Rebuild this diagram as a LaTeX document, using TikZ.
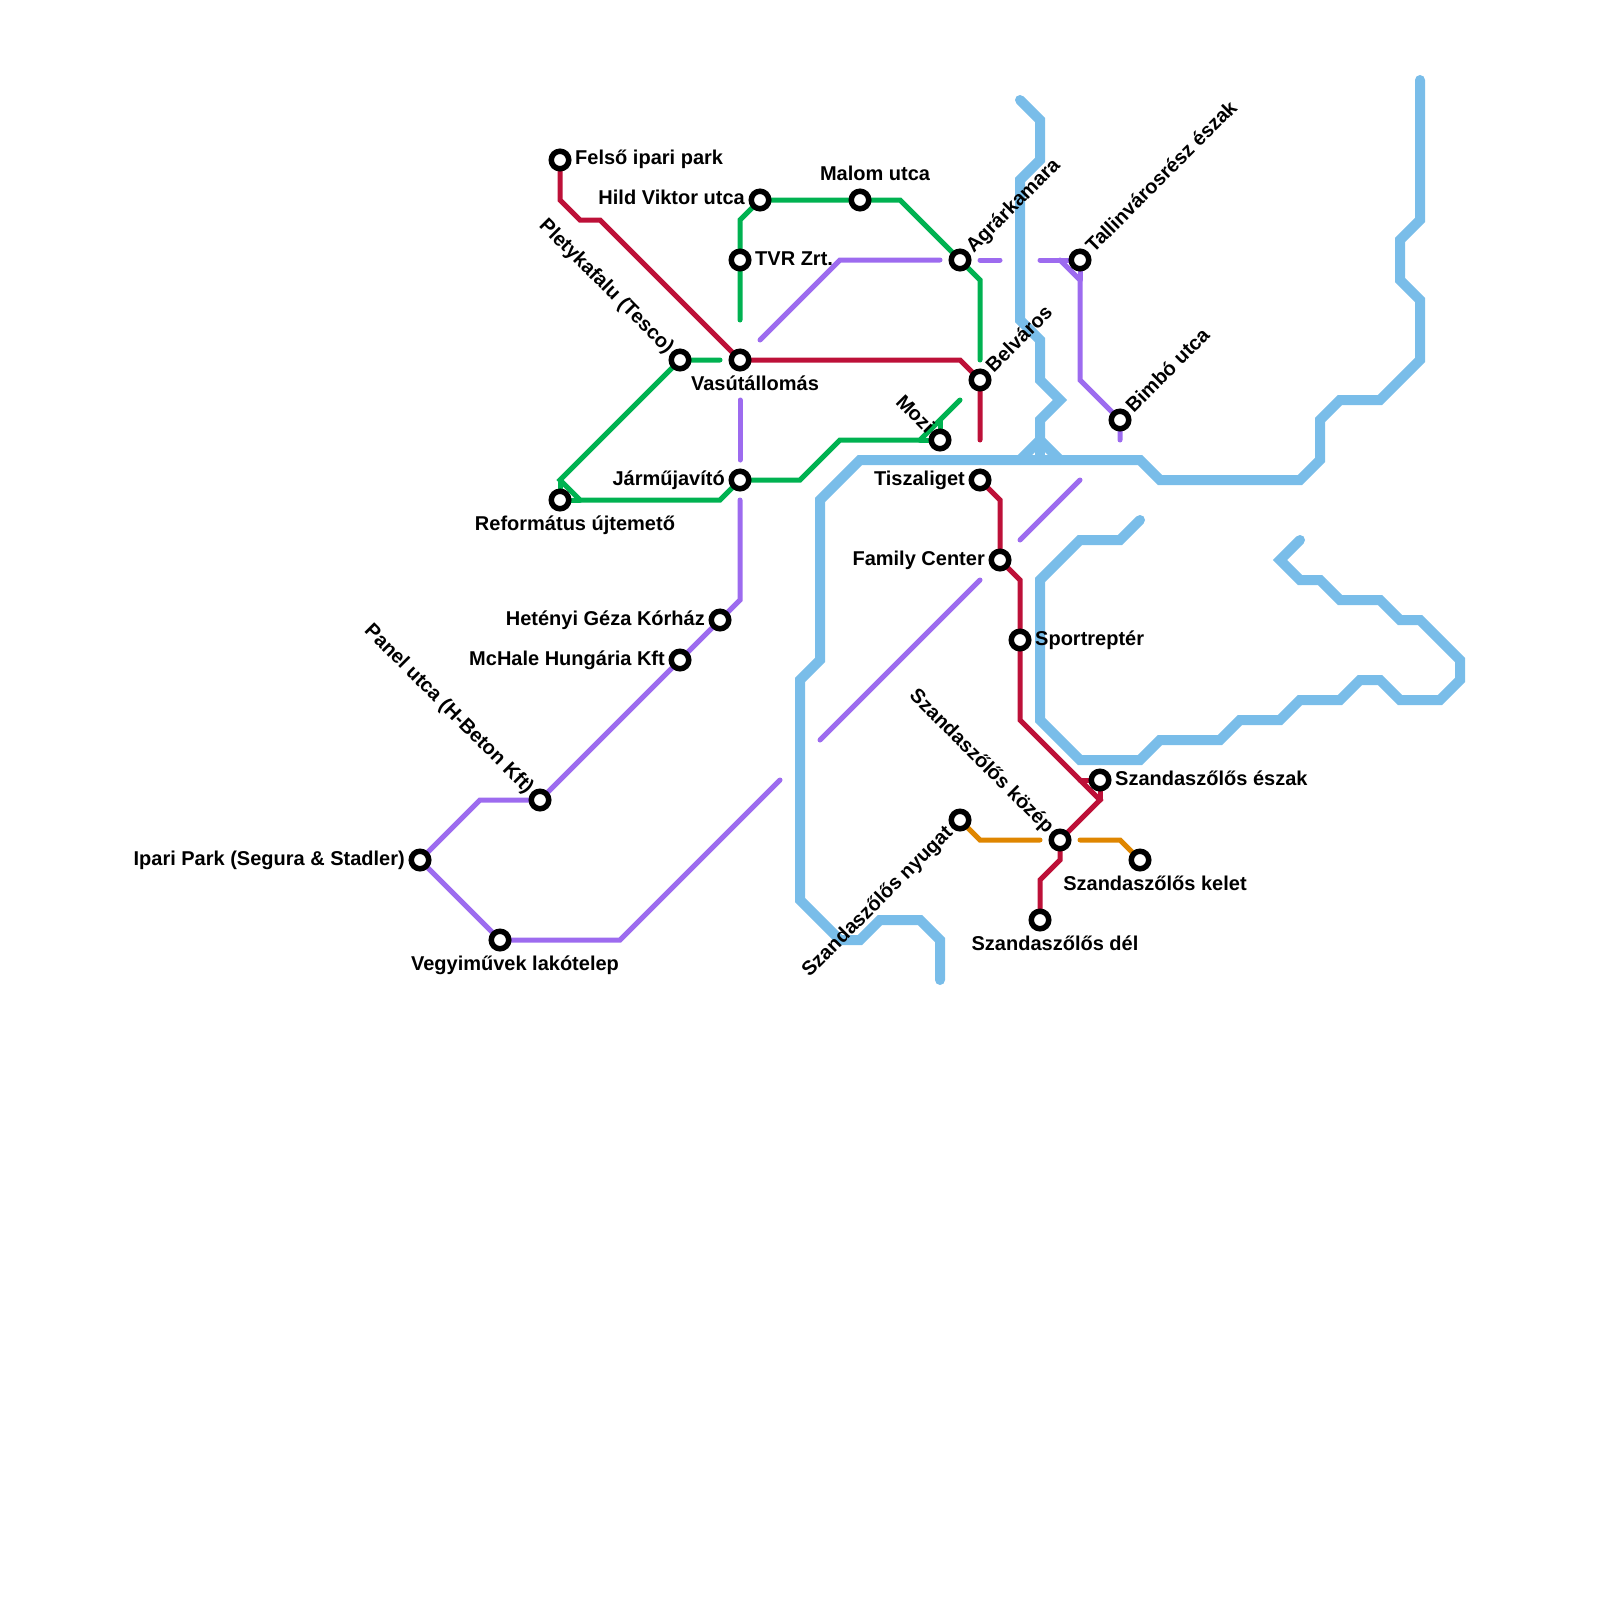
\documentclass[tikz,border=0pt]{standalone}
\usepackage{fontspec}
\setmainfont{Liberation Sans}
\definecolor{cred}{HTML}{BD1038}
\definecolor{cgreen}{HTML}{00B251}
\definecolor{cpurple}{HTML}{9D6BEF}
\definecolor{cblue}{HTML}{79BDE9}
\definecolor{corange}{HTML}{DF8600}
\pgfdeclarelayer{lines}
\pgfsetlayers{lines,main}
\tikzset{
  stn/.style={circle,draw=black,fill=white,line width=5.5pt,minimum size=17.5pt,inner sep=0pt},
  lbl/.style={inner sep=0pt,font=\fontsize{20}{20}\selectfont\bfseries,text height=14.5pt,text depth=4.2pt},
  rail/.style={line width=5pt,line cap=round,line join=miter,miter limit=4},
  water/.style={line width=10pt,line cap=round,line join=miter,miter limit=4,draw=cblue},
  lr/.style={rail,draw=cred},lg/.style={rail,draw=cgreen},lp/.style={rail,draw=cpurple},lo/.style={rail,draw=corange}
}
\begin{document}
\begin{tikzpicture}[x=1pt,y=-1pt]
\useasboundingbox (0,0) rectangle (1600,1600);
\foreach \n/\x/\y in {fel/560/160,hil/760/200,mal/860/200,tvr/740/260,agr/960/260,tal/1080/260,ple/680/360,vas/740/360,bel/980/380,bim/1120/420,moz/940/440,jar/740/480,tis/980/480,ref/560/500,fam/1000/560,het/720/620,spo/1020/640,mch/680/660,pan/540/800,sze/1100/780,szn/960/820,szk/1060/840,szl/1140/860,szd/1040/920,ipa/420/860,veg/500/940}{
  \node[stn] (\n) at (\x,\y) {};
}
% labels
\node[lbl,anchor=west] (tfel) at (575,159.5) {Felső ipari park};
\node[lbl,anchor=east] (thil) at (745,199) {Hild Viktor utca};
\node[lbl] (tmal) at (875,175) {Malom utca};
\node[lbl,anchor=west] (ttvr) at (755,260) {TVR Zrt.};
\node[lbl,anchor=west,rotate=45] (tagr) at (970,250) {Agrárkamara};
\node[lbl,anchor=west,rotate=45] (ttal) at (1090,250) {Tallinvárosrész észak};
\node[lbl,anchor=east,rotate=-45] (tple) at (670,351) {Pletykafalu (Tesco)};
\node[lbl] (tvas) at (755,385) {Vasútállomás};
\node[lbl,anchor=west,rotate=45] (tbel) at (990,370) {Belváros};
\node[lbl,anchor=west,rotate=45] (tbim) at (1130,410) {Bimbó utca};
\node[lbl,anchor=east,rotate=-45] (tmoz) at (930,431) {Mozi};
\node[lbl,anchor=east] (tjar) at (725,480) {Járműjavító};
\node[lbl,anchor=east] (ttis) at (965,480) {Tiszaliget};
\node[lbl] (tref) at (575,525) {Református újtemető};
\node[lbl,anchor=east] (tfam) at (985,560) {Family Center};
\node[lbl,anchor=east] (thet) at (705,620) {Hetényi Géza Kórház};
\node[lbl,anchor=west] (tspo) at (1035,640) {Sportreptér};
\node[lbl,anchor=east] (tmch) at (665,660) {McHale Hungária Kft};
\node[lbl,anchor=east,rotate=-45] (tpan) at (530,791) {Panel utca (H-Beton Kft)};
\node[lbl,anchor=west] (tsze) at (1115,780) {Szandaszőlős észak};
\node[lbl,anchor=east,rotate=45] (tszn) at (950,830) {Szandaszőlős nyugat};
\node[lbl,anchor=east,rotate=-45] (tszk) at (1050,831) {Szandaszőlős közép};
\node[lbl] (tszl) at (1155,885) {Szandaszőlős kelet};
\node[lbl] (tszd) at (1055,945) {Szandaszőlős dél};
\node[lbl,anchor=east] (tipa) at (405,860) {Ipari Park (Segura \& Stadler)};
\node[lbl] (tveg) at (515,965) {Vegyiművek lakótelep};
\begin{pgfonlayer}{lines}
% water
\draw[water] (1020,100)--(1040,120)--(1040,160)--(1020,180)--(1020,320)--(1040,340)--(1040,380)--(1060,400)--(1040,420)--(1040,440);
\draw[water] (1020,460)--(1040,440)--(1060,460);
\draw[water] (1040,440)--(1040,460);
\draw[water] (1420,80)--(1420,220)--(1400,240)--(1400,280)--(1420,300)--(1420,360)--(1380,400)--(1340,400)--(1320,420)--(1320,460)--(1300,480)--(1160,480)--(1140,460)--(860,460)--(820,500)--(820,660)--(800,680)--(800,900)--(840,940)--(860,940)--(880,920)--(920,920)--(940,940)--(940,980);
\draw[water] (1140,520)--(1120,540)--(1080,540)--(1040,580)--(1040,720)--(1080,760)--(1140,760)--(1160,740)--(1220,740)--(1240,720)--(1280,720)--(1300,700)--(1340,700)--(1360,680)--(1380,680)--(1400,700)--(1440,700)--(1460,680)--(1460,660)--(1420,620)--(1400,620)--(1380,600)--(1340,600)--(1320,580)--(1300,580)--(1280,560)--(1300,540);
% green
\draw[lg] (740,320)--(tvr.center)--(740,220)--(hil.center)--(mal.center)--(900,200)--(agr.center)--(980,280)--(980,360);
\draw[lg] (720,360)--(ple.center)--(560,480)--(580,500)--(720,500)--(jar.center)--(800,480)--(840,440)--(920,440)--(960,400);
\draw[lg] (560,480)--(ref.center)--(580,500);
\draw[lg] (940,420)--(moz.center);
\draw[lg] (920,440)--(moz.center);
% purple
\draw[lp] (760,340)--(840,260)--(940,260);
\draw[lp] (980,260)--(1000,260);
\draw[lp] (1040,260)--(tal.center);
\draw[lp] (1060,260)--(1080,280)--(1080,380)--(bim.center)--(1120,440);
\draw[lp] (tal.center)--(1080,280);
\draw[lp] (740,400)--(740,460);
\draw[lp] (740,500)--(740,600)--(het.center)--(mch.center)--(pan.center)--(480,800)--(ipa.center)--(veg.center)--(620,940)--(780,780);
\draw[lp] (820,740)--(980,580);
\draw[lp] (1020,540)--(1080,480);
% red
\draw[lr] (fel.center)--(560,200)--(580,220)--(600,220)--(vas.center)--(960,360)--(bel.center)--(980,440);
\draw[lr] (tis.center)--(1000,500)--(fam.center)--(1020,580)--(spo.center)--(1020,720)--(1100,800)--(szk.center)--(1060,860)--(1040,880)--(szd.center);
\draw[lr] (1080,780)--(sze.center)--(1100,800);
% orange
\draw[lo] (szn.center)--(980,840)--(1040,840);
\draw[lo] (1080,840)--(1120,840)--(szl.center);
\end{pgfonlayer}
\end{tikzpicture}
\end{document}
